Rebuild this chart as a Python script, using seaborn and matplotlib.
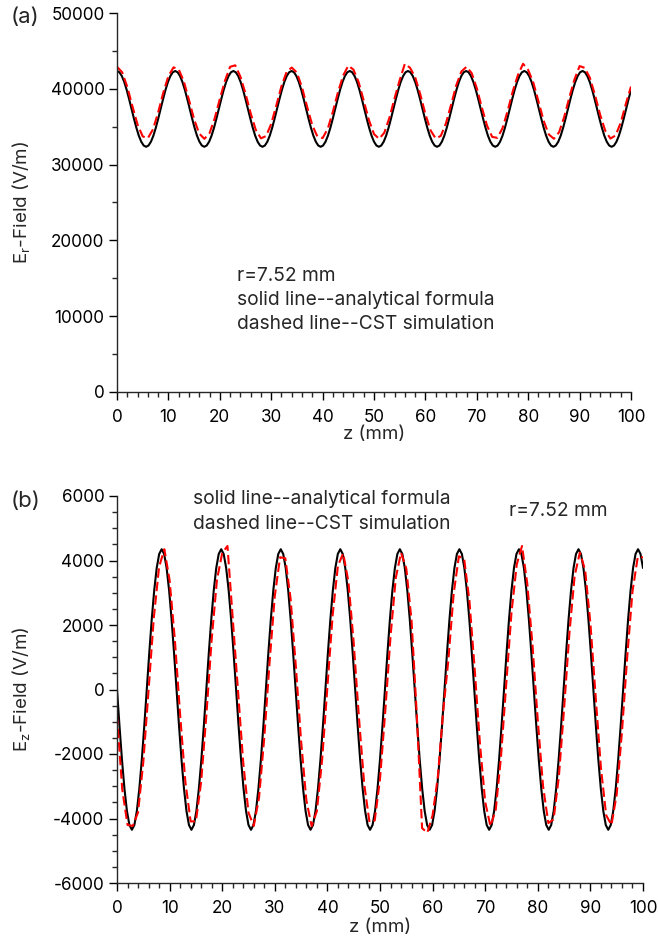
import numpy as np
import pandas as pd
import matplotlib
matplotlib.use("Agg")
import matplotlib.pyplot as plt
import seaborn as sns
from matplotlib.ticker import MultipleLocator

# ---------------- data ----------------
# analytical curves: 213 samples spanning z = 0 .. 100 mm
Z_ANALYTIC = np.linspace(0, 100, 213)
ER_ANALYTIC = [
    42350, 42180, 41680, 40890, 39850, 38640, 37350, 36060, 34850, 33810, 33020, 32520,
    32350, 32520, 33020, 33810, 34850, 36060, 37350, 38640, 39850, 40890, 41680, 42180,
    42350, 42180, 41680, 40890, 39850, 38640, 37350, 36060, 34850, 33810, 33020, 32520,
    32350, 32520, 33020, 33810, 34850, 36060, 37350, 38640, 39850, 40890, 41680, 42180,
    42350, 42180, 41680, 40890, 39850, 38640, 37350, 36060, 34850, 33810, 33020, 32520,
    32350, 32520, 33020, 33810, 34850, 36060, 37350, 38640, 39850, 40890, 41680, 42180,
    42350, 42180, 41680, 40890, 39850, 38640, 37350, 36060, 34850, 33810, 33020, 32520,
    32350, 32520, 33020, 33810, 34850, 36060, 37350, 38640, 39850, 40890, 41680, 42180,
    42350, 42180, 41680, 40890, 39850, 38640, 37350, 36060, 34850, 33810, 33020, 32520,
    32350, 32520, 33020, 33810, 34850, 36060, 37350, 38640, 39850, 40890, 41680, 42180,
    42350, 42180, 41680, 40890, 39850, 38640, 37350, 36060, 34850, 33810, 33020, 32520,
    32350, 32520, 33020, 33810, 34850, 36060, 37350, 38640, 39850, 40890, 41680, 42180,
    42350, 42180, 41680, 40890, 39850, 38640, 37350, 36060, 34850, 33810, 33020, 32520,
    32350, 32520, 33020, 33810, 34850, 36060, 37350, 38640, 39850, 40890, 41680, 42180,
    42350, 42180, 41680, 40890, 39850, 38640, 37350, 36060, 34850, 33810, 33020, 32520,
    32350, 32520, 33020, 33810, 34850, 36060, 37350, 38640, 39850, 40890, 41680, 42180,
    42350, 42180, 41680, 40890, 39850, 38640, 37350, 36060, 34850, 33810, 33020, 32520,
    32350, 32520, 33020, 33810, 34850, 36060, 37350, 38640, 39850,
]
EZ_ANALYTIC = [
    0, -1126, -2175, -3076, -3767, -4202, -4350, -4202, -3767, -3076, -2175, -1126,
    0, 1126, 2175, 3076, 3767, 4202, 4350, 4202, 3767, 3076, 2175, 1126,
    0, -1126, -2175, -3076, -3767, -4202, -4350, -4202, -3767, -3076, -2175, -1126,
    0, 1126, 2175, 3076, 3767, 4202, 4350, 4202, 3767, 3076, 2175, 1126,
    0, -1126, -2175, -3076, -3767, -4202, -4350, -4202, -3767, -3076, -2175, -1126,
    0, 1126, 2175, 3076, 3767, 4202, 4350, 4202, 3767, 3076, 2175, 1126,
    0, -1126, -2175, -3076, -3767, -4202, -4350, -4202, -3767, -3076, -2175, -1126,
    0, 1126, 2175, 3076, 3767, 4202, 4350, 4202, 3767, 3076, 2175, 1126,
    0, -1126, -2175, -3076, -3767, -4202, -4350, -4202, -3767, -3076, -2175, -1126,
    0, 1126, 2175, 3076, 3767, 4202, 4350, 4202, 3767, 3076, 2175, 1126,
    0, -1126, -2175, -3076, -3767, -4202, -4350, -4202, -3767, -3076, -2175, -1126,
    0, 1126, 2175, 3076, 3767, 4202, 4350, 4202, 3767, 3076, 2175, 1126,
    0, -1126, -2175, -3076, -3767, -4202, -4350, -4202, -3767, -3076, -2175, -1126,
    0, 1126, 2175, 3076, 3767, 4202, 4350, 4202, 3767, 3076, 2175, 1126,
    0, -1126, -2175, -3076, -3767, -4202, -4350, -4202, -3767, -3076, -2175, -1126,
    0, 1126, 2175, 3076, 3767, 4202, 4350, 4202, 3767, 3076, 2175, 1126,
    0, -1126, -2175, -3076, -3767, -4202, -4350, -4202, -3767, -3076, -2175, -1126,
    0, 1126, 2175, 3076, 3767, 4202, 4350, 4202, 3767,
]

# CST simulation curves: one sample per mm
Z_CST = list(range(0, 101))
ER_CST = [
    42900, 42190, 40260, 37700, 35280, 33720, 33480, 34650, 36870, 39480,
    41680, 42830, 42570, 40980, 38550, 35990, 34090, 33400, 34140, 36080,
    38650, 41060, 42900, 43100, 41610, 39380, 36780, 34580, 33470, 33760,
    35370, 37810, 40360, 42240, 42800, 42130, 40170, 37600, 35190, 33680,
    33500, 34730, 36980, 39580, 41750, 43050, 42530, 40900, 38440, 35900,
    34030, 33400, 34200, 36180, 38750, 41150, 43300, 42780, 41540, 39280,
    36670, 34520, 33450, 33790, 35450, 37910, 40450, 42290, 42900, 42070,
    40080, 37500, 35120, 33650, 33530, 34800, 37080, 39680, 41820, 43300,
    42480, 40810, 38330, 35800, 33980, 33410, 34260, 36280, 38860, 41230,
    43000, 42760, 41460, 39170, 36570, 34450, 33440, 33840, 35530, 38020,
    40300,
]
EZ_CST = [
    -800, -3100, -4200, -4230, -3810, -2250, -20, 2230, 3800, 4350,
    3390, 1540, -780, -2870, -4090, -4090, -2860, -770, 1550, 3400,
    4230, 4450, 2210, -30, -2270, -3820, -4230, -3360, -1490, 830,
    2900, 4100, 4070, 2820, 720, -1600, -3430, -4240, -3770, -2170,
    80, 2310, 3840, 4220, 3340, 1450, -880, -2940, -4110, -4060,
    -2780, -670, 1640, 3460, 4240, 3750, 2130, -800, -4300, -4440,
    -3900, -2700, -700, 920, 2970, 4130, 4050, 2750, 630, -1680,
    -3490, -4240, -3730, -2090, 170, 2390, 3880, 4450, 3280, 1360,
    -970, -3000, -4140, -4030, -2710, -580, 1730, 3520, 4250, 3700,
    2050, -220, -2430, -3900, -4200, -3250, -1310, 1010, 3040, 4100,
    4100,
]

ER_YLIM = (0, 50000)
EZ_YLIM = (-6000, 6000)

# ---------------- style ----------------
sns.set_theme(style="ticks")
plt.rcParams["font.family"] = ["Inter", "DejaVu Sans"]
plt.rcParams["axes.unicode_minus"] = False
plt.rcParams["axes.linewidth"] = 1.0

W, H = 658, 941
fig = plt.figure(figsize=(W / 100, H / 100), dpi=100)

def axes_px(left, top, right, bottom):
    return fig.add_axes([left / W, 1 - bottom / H, (right - left) / W, (bottom - top) / H])

ax1 = axes_px(117, 13, 631, 392)
ax2 = axes_px(117, 496, 643, 883)

df_a = pd.DataFrame({"z": Z_ANALYTIC, "er": ER_ANALYTIC, "ez": EZ_ANALYTIC})
df_c = pd.DataFrame({"z": Z_CST, "er": ER_CST, "ez": EZ_CST})

dash = (0, (4.5, 2.0))
for ax, col in ((ax1, "er"), (ax2, "ez")):
    sns.lineplot(data=df_a, x="z", y=col, ax=ax, color="black", linewidth=1.5,
                 estimator=None, errorbar=None)
    sns.lineplot(data=df_c, x="z", y=col, ax=ax, color="#ff0000", linewidth=1.5,
                 linestyle=dash, estimator=None, errorbar=None)

TICK_FS = 12.3
LAB_FS = 13.5
for ax in (ax1, ax2):
    sns.despine(ax=ax)
    ax.set_xlim(0, 100)
    ax.xaxis.set_major_locator(MultipleLocator(10))
    ax.xaxis.set_minor_locator(MultipleLocator(2))
    ax.tick_params(axis="both", which="major", direction="out", length=6, width=1.0,
                   labelsize=TICK_FS, colors="black")
    ax.tick_params(axis="both", which="minor", direction="out", length=3.5, width=1.0)
    ax.tick_params(axis="x", which="major", pad=6)
    ax.tick_params(axis="y", which="major", pad=3)
    ax.set_xlabel("z (mm)", fontsize=LAB_FS)

ax1.set_ylim(*ER_YLIM)
ax1.yaxis.set_major_locator(MultipleLocator(10000))
ax1.yaxis.set_minor_locator(MultipleLocator(5000))
ax2.set_ylim(*EZ_YLIM)
ax2.yaxis.set_major_locator(MultipleLocator(2000))
ax2.yaxis.set_minor_locator(MultipleLocator(500))

ax1.set_ylabel(r"E$_\mathregular{r}$-Field (V/m)", fontsize=LAB_FS)
ax2.set_ylabel(r"E$_\mathregular{z}$-Field (V/m)", fontsize=LAB_FS)
ax1.yaxis.set_label_coords((33 - 117) / 514, 0.5)
ax2.yaxis.set_label_coords((33 - 117) / 526, 0.5)
ax1.xaxis.set_label_coords(0.5, -(426 - 392) / 379)
ax2.xaxis.set_label_coords(0.5, -(919 - 883) / 387)

TXT_FS = 13.8
fig.text(11 / W, 1 - 17 / H, "(a)", fontsize=16, ha="left", va="center")
fig.text(11 / W, 1 - 501 / H, "(b)", fontsize=16, ha="left", va="center")

fig.text(237 / W, 1 - 276 / H, "r=7.52 mm", fontsize=TXT_FS, ha="left", va="center")
fig.text(237 / W, 1 - 300 / H, "solid line--analytical formula", fontsize=TXT_FS, ha="left", va="center")
fig.text(237 / W, 1 - 324 / H, "dashed line--CST simulation", fontsize=TXT_FS, ha="left", va="center")

fig.text(193 / W, 1 - 499 / H, "solid line--analytical formula", fontsize=TXT_FS, ha="left", va="center")
fig.text(193 / W, 1 - 524 / H, "dashed line--CST simulation", fontsize=TXT_FS, ha="left", va="center")
fig.text(509 / W, 1 - 511 / H, "r=7.52 mm", fontsize=TXT_FS, ha="left", va="center")

fig.savefig("out.png", dpi=100)
